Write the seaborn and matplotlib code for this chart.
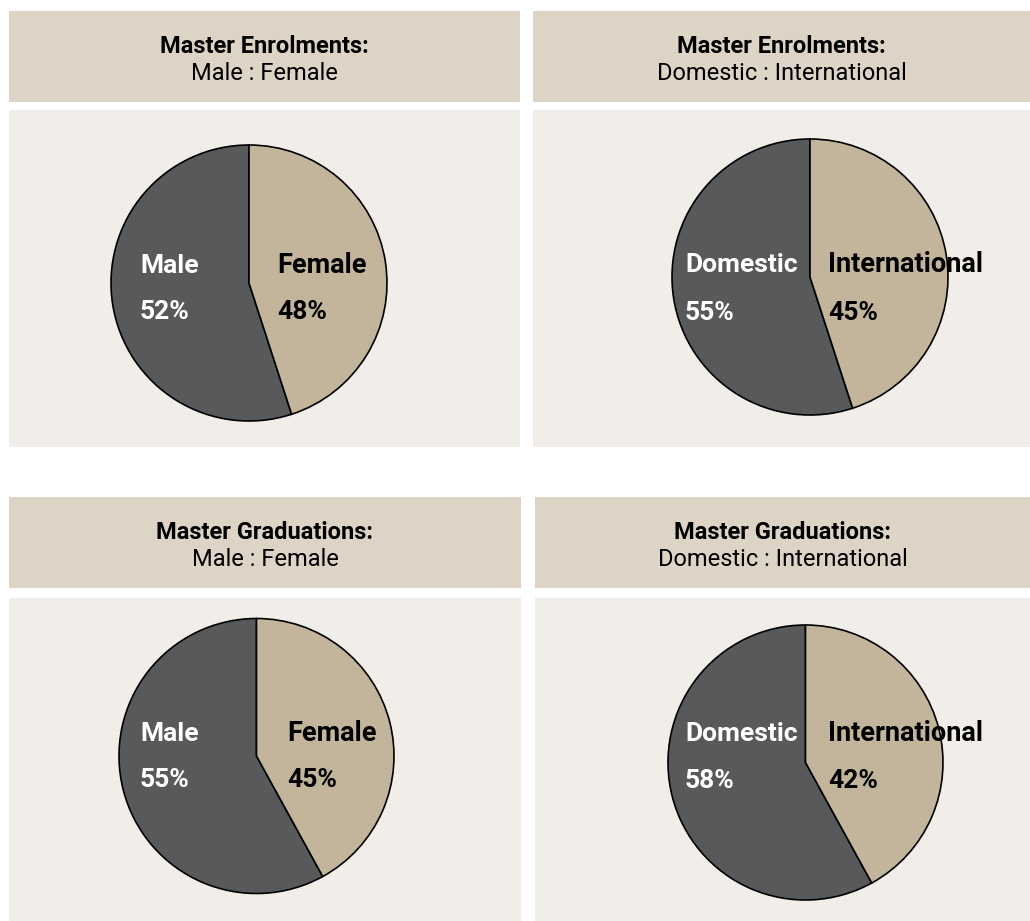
import matplotlib
matplotlib.use("Agg")
import matplotlib.pyplot as plt
import seaborn as sns

sns.set_theme(style="white")
plt.rcParams['font.family'] = ['Roboto', 'DejaVu Sans']

# data
titles = ["Master Enrolments:", "Master Enrolments:",
          "Master Graduations:", "Master Graduations:"]
subtitles = ["Male : Female", "Domestic : International",
             "Male : Female", "Domestic : International"]
left_labels = ["Male", "Domestic", "Male", "Domestic"]
right_labels = ["Female", "International", "Female", "International"]
# percentages printed on the slices
left_pct = ["52%", "55%", "55%", "58%"]
right_pct = ["48%", "45%", "45%", "42%"]
# slice sizes as drawn in the source chart
left_share = [55, 55, 58, 58]
right_share = [45, 45, 42, 42]

dark = "#58595b"
beige = "#c2b59b"
header_bg = "#ddd4c6"
body_bg = "#f1eeea"

W, H = 1030, 921
fig = plt.figure(figsize=(W / 100, H / 100), dpi=100)
fig.patch.set_facecolor("white")


def box(x0, y0, x1, y1):
    return [x0 / W, 1 - y1 / H, (x1 - x0) / W, (y1 - y0) / H]


# layout in pixels: header box, body box, pie centre + radius, label offsets
layout = [
    dict(head=(9, 11, 520, 102), body=(9, 110, 520, 447), c=(249, 283), r=138,
         lx=-0.79, rx=0.203, ly=0.072, py=-0.261),
    dict(head=(533, 11, 1030, 102), body=(533, 110, 1030, 447), c=(810, 277), r=138,
         lx=-0.906, rx=0.13, ly=0.036, py=-0.312),
    dict(head=(9, 497, 521, 588), body=(9, 598, 521, 921), c=(256.5, 756), r=137.5,
         lx=-0.847, rx=0.222, ly=0.109, py=-0.225),
    dict(head=(535, 497, 1030, 588), body=(535, 598, 1030, 921), c=(805.5, 762.5), r=137.5,
         lx=-0.876, rx=0.162, ly=0.156, py=-0.185),
]

for i, L in enumerate(layout):
    # header
    hx0, hy0, hx1, hy1 = L["head"]
    hax = fig.add_axes(box(*L["head"]))
    hax.set_facecolor(header_bg)
    hax.set_xlim(0, 1)
    hax.set_ylim(hy1 - hy0, 0)
    hax.set_xticks([])
    hax.set_yticks([])
    sns.despine(ax=hax, left=True, bottom=True)
    hax.text(0.5, 42, titles[i], ha="center", va="baseline",
             fontsize=17, fontweight="bold", color="black")
    hax.text(0.5, 69, subtitles[i], ha="center", va="baseline",
             fontsize=17, color="black")

    # body
    bax = fig.add_axes(box(*L["body"]))
    bax.set_facecolor(body_bg)
    bax.set_xticks([])
    bax.set_yticks([])
    sns.despine(ax=bax, left=True, bottom=True)

    # pie
    cx, cy = L["c"]
    r = L["r"]
    pax = fig.add_axes(box(cx - r, cy - r, cx + r, cy + r))
    pax.pie([left_share[i], right_share[i]], colors=[dark, beige],
            startangle=90, counterclock=True, radius=1,
            wedgeprops=dict(edgecolor="black", linewidth=1.2))
    pax.set_xlim(-1, 1)
    pax.set_ylim(-1, 1)
    pax.set_axis_off()

    pax.text(L["lx"], L["ly"], left_labels[i], ha="left", va="baseline",
             fontsize=19, fontweight="bold", color="white")
    pax.text(L["lx"], L["py"], left_pct[i], ha="left", va="baseline",
             fontsize=19, fontweight="bold", color="white")
    pax.text(L["rx"], L["ly"], right_labels[i], ha="left", va="baseline",
             fontsize=19.5, fontweight="bold", color="black", clip_on=False)
    pax.text(L["rx"], L["py"], right_pct[i], ha="left", va="baseline",
             fontsize=19, fontweight="bold", color="black")

fig.savefig("out.png", dpi=100, facecolor=fig.get_facecolor())
